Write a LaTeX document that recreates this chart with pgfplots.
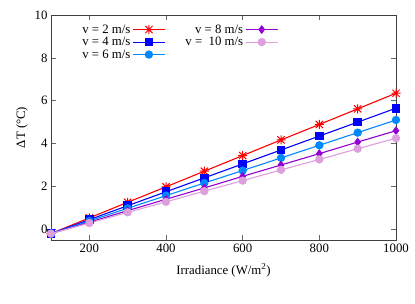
\documentclass[border=0pt]{standalone}
\usepackage{pgfplots}
\pgfplotsset{compat=1.18}
\usepackage{fontspec}
\setmainfont{Liberation Serif}
\definecolor{cA}{RGB}{255,0,0}
\definecolor{cB}{RGB}{0,0,255}
\definecolor{cC}{RGB}{0,136,255}
\definecolor{cD}{RGB}{148,0,211}
\definecolor{cE}{RGB}{221,160,221}
\pgfdeclareplotmark{gpstar}{%
  \pgfpathmoveto{\pgfqpoint{-\pgfplotmarksize}{0pt}}\pgfpathlineto{\pgfqpoint{\pgfplotmarksize}{0pt}}%
  \pgfpathmoveto{\pgfqpoint{0pt}{-\pgfplotmarksize}}\pgfpathlineto{\pgfqpoint{0pt}{\pgfplotmarksize}}%
  \pgfpathmoveto{\pgfqpoint{-0.8\pgfplotmarksize}{-0.8\pgfplotmarksize}}\pgfpathlineto{\pgfqpoint{0.8\pgfplotmarksize}{0.8\pgfplotmarksize}}%
  \pgfpathmoveto{\pgfqpoint{-0.8\pgfplotmarksize}{0.8\pgfplotmarksize}}\pgfpathlineto{\pgfqpoint{0.8\pgfplotmarksize}{-0.8\pgfplotmarksize}}%
  \pgfusepathqstroke}
\begin{document}
\begin{tikzpicture}[font=\fontsize{12.8}{15}\selectfont]
\path[use as bounding box] (-51pt,-64pt) rectangle (364pt,240pt);
\begin{axis}[
  scale only axis, width=345pt, height=225pt,
  at={(0pt,0pt)}, anchor=south west,
  xmin=100, xmax=1000, ymin=-0.5, ymax=10,
  xtick={200,400,600,800,1000}, ytick={0,2,4,6,8,10},
  tick align=inside, major tick length=5pt,
  axis line style={draw=black!75, line width=0.8pt},
  tick style={draw=black!60, line width=0.6pt},
  /pgf/number format/assume math mode=true,
  /pgf/number format/1000 sep={},
  xlabel={Irradiance (W/m\textsuperscript{2})},
  xlabel style={yshift=-5pt},
  ylabel={ΔT (°C)},
  every axis plot/.append style={line width=1.1pt},
  legend columns=3, transpose legend,
  legend cell align=right, legend plot pos=right,
  legend image code/.code={\draw[mark repeat=2,mark phase=2] plot coordinates {(0pt,0pt) (16pt,0pt) (32pt,0pt)};},
  legend style={at={(axis cs:168,9.75)}, anchor=north west, draw=none, fill=none,
    row sep=-1.5pt, /tikz/every even column/.append style={column sep=18pt}},
]
\addplot[color=cA, mark=gpstar, mark size=4.5pt, mark options={line width=1pt}] coordinates {
(100,-0.2) (200,0.53) (300,1.26) (400,1.98) (500,2.71) (600,3.44) (700,4.17) (800,4.89) (900,5.62) (1000,6.35)};
\addlegendentry{v = 2 m/s}
\addplot[color=cB, mark=square*, mark size=3.8pt] coordinates {
(100,-0.2) (200,0.45) (300,1.10) (400,1.75) (500,2.40) (600,3.05) (700,3.70) (800,4.35) (900,5.00) (1000,5.65)};
\addlegendentry{v = 4 m/s}
\addplot[color=cC, mark=*, mark size=3.6pt] coordinates {
(100,-0.2) (200,0.39) (300,0.98) (400,1.57) (500,2.16) (600,2.74) (700,3.33) (800,3.92) (900,4.51) (1000,5.10)};
\addlegendentry{v = 6 m/s}
\addplot[color=cD, mark=diamond*, mark size=3.6pt] coordinates {
(100,-0.2) (200,0.33) (300,0.87) (400,1.40) (500,1.93) (600,2.47) (700,3.00) (800,3.53) (900,4.07) (1000,4.60)};
\addlegendentry{v = 8 m/s}
\addplot[color=cE, mark=*, mark size=3.6pt] coordinates {
(100,-0.2) (200,0.29) (300,0.79) (400,1.28) (500,1.78) (600,2.27) (700,2.77) (800,3.26) (900,3.76) (1000,4.25)};
\addlegendentry{v =\ \ 10 m/s}
\end{axis}
\end{tikzpicture}
\end{document}
